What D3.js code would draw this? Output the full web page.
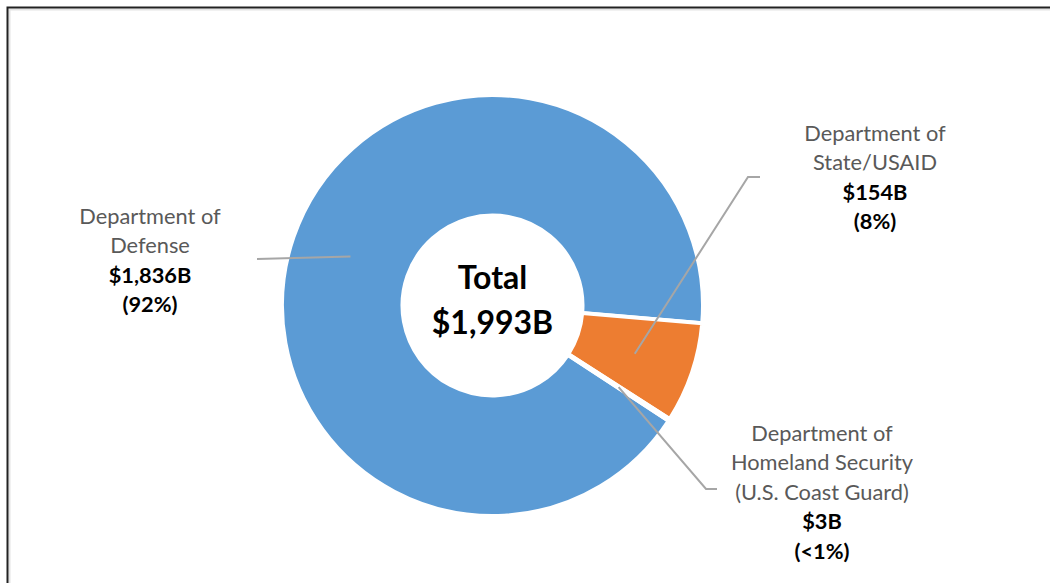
<!DOCTYPE html>
<html>
<head>
<meta charset="utf-8">
<script src="https://cdn.jsdelivr.net/npm/d3@7"></script>
<style>
  body { margin: 0; background: #fff; }
  svg { display: block; font-family: Lato, "Open Sans", sans-serif; }
</style>
</head>
<body>
<div id="chart"></div>
<script>
// data
const categories = ["Department of Defense", "Department of State/USAID", "Department of Homeland Security (U.S. Coast Guard)"];
const nameLines = [["Department of", "Defense"], ["Department of", "State/USAID"], ["Department of", "Homeland Security", "(U.S. Coast Guard)"]];
const values = [1836, 154, 3];
const valueLabels = ["$1,836B", "$154B", "$3B"];
const pctLabels = ["(92%)", "(8%)", "(<1%)"];
const totalLabel = ["Total", "$1,993B"];
const colors = ["#5B9BD5", "#ED7D31", "#A5A5A5"];

let width = 1050,
    height = 583,
    cx = 492.5,
    cy = 305.5,
    outerR = 210.5,
    innerR = 90;

let svg = d3.select("#chart").append("svg")
    .attr("width", width)
    .attr("height", height);

// frame (top + left edges only are in view)
svg.append("path")
    .attr("d", "M9.5," + height + "V9.5H" + width)
    .attr("fill", "none")
    .attr("stroke", "#e3e3e3")
    .attr("stroke-width", 2);
svg.append("path")
    .attr("d", "M7.5," + height + "V7.5H" + width)
    .attr("fill", "none")
    .attr("stroke", "#222")
    .attr("stroke-width", 2);

let g = svg.append("g")
    .attr("transform", "translate(" + cx + "," + cy + ")");

let start = 123.2 * Math.PI / 180;
let pie = d3.pie()
    .sort(null)
    .startAngle(start)
    .endAngle(start + 2 * Math.PI)
    .value(function(d) { return d; });

let arc = d3.arc()
    .innerRadius(innerR)
    .outerRadius(outerR);

let arcs = pie(values);

g.selectAll("path.slice")
    .data(arcs)
    .enter()
    .append("path")
    .attr("class", "slice")
    .attr("d", arc)
    .attr("fill", function(d, i) { return colors[i]; })
    .attr("stroke", "#fff")
    .attr("stroke-width", 4)
    .attr("stroke-linejoin", "miter");

// label layout: end of leader line, elbow length, label centre, first line y
let labelPos = [
    { end: [257, 259], elbow: 0, x: 150, y: 216 },
    { end: [760, 177], elbow: -12, x: 875, y: 133 },
    { end: [717, 489], elbow: -11, x: 822, y: 433 }
];
let lineH = 29.5;

let lines = svg.append("g").attr("class", "lines");
arcs.forEach(function(d, i) {
    let c = arc.centroid(d);
    let p = labelPos[i];
    let pts = [[c[0] + cx, c[1] + cy]];
    if (p.elbow) pts.push([p.end[0] + p.elbow, p.end[1]]);
    pts.push(p.end);
    lines.append("polyline")
        .attr("points", pts.join(" "))
        .attr("fill", "none")
        .attr("stroke", "#A6A6A6")
        .attr("stroke-width", 2);
});

let labels = svg.append("g").attr("class", "labels");
labelPos.forEach(function(p, i) {
    let rows = nameLines[i].map(function(t) { return { t: t, bold: false }; })
        .concat([{ t: valueLabels[i], bold: true }, { t: pctLabels[i], bold: true }]);
    labels.selectAll(null)
        .data(rows)
        .enter()
        .append("text")
        .attr("x", p.x)
        .attr("y", function(r, j) { return p.y + j * lineH; })
        .attr("dy", "0.35em")
        .attr("text-anchor", "middle")
        .attr("font-size", 21.8)
        .attr("font-weight", function(r) { return r.bold ? "bold" : "normal"; })
        .attr("fill", function(r) { return r.bold ? "#000" : "#595959"; })
        .text(function(r) { return r.t; });
});

// centre total
g.selectAll("text.total")
    .data(totalLabel)
    .enter()
    .append("text")
    .attr("class", "total")
    .attr("x", 0)
    .attr("y", function(d, i) { return i === 0 ? -28 : 17; })
    .attr("dy", "0.35em")
    .attr("text-anchor", "middle")
    .attr("font-size", 32)
    .attr("font-weight", "bold")
    .attr("fill", "#000")
    .text(function(d) { return d; });
</script>
</body>
</html>
